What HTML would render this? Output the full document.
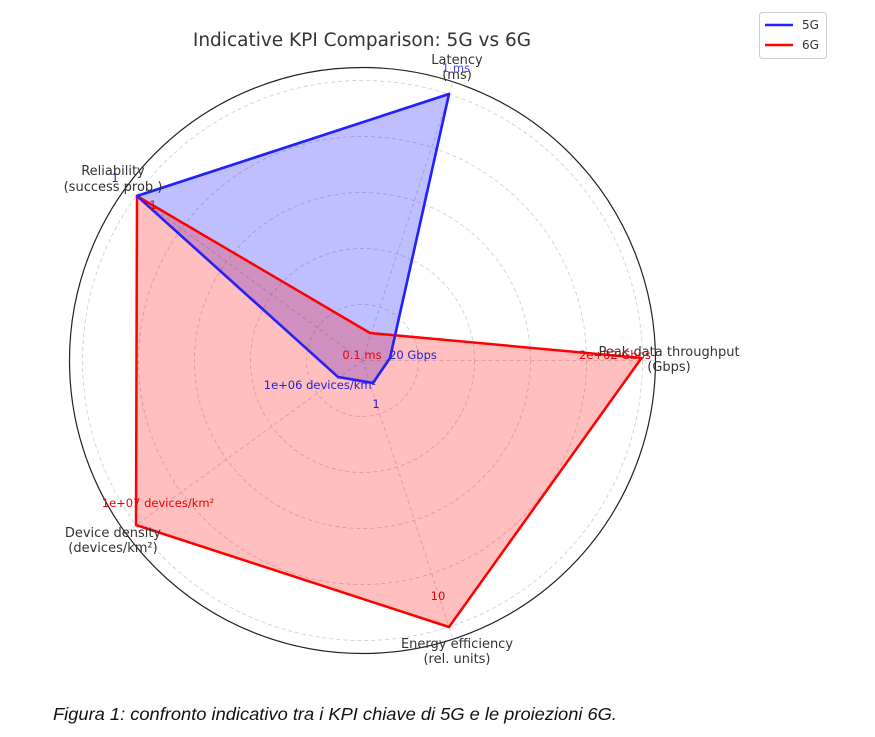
<!DOCTYPE html>
<html><head><meta charset="utf-8"><style>body{margin:0;background:#fff}svg{display:block}</style></head><body>
<svg width="875" height="737" viewBox="0 0 875 737" xmlns="http://www.w3.org/2000/svg" font-family="'DejaVu Sans','Liberation Sans',sans-serif">
<rect width="875" height="737" fill="#fff"/>
<g fill="none" stroke="#ccc" stroke-dasharray="4,3" stroke-width="0.8">
<circle cx="362.5" cy="360.5" r="56"/><circle cx="362.5" cy="360.5" r="112"/><circle cx="362.5" cy="360.5" r="168"/><circle cx="362.5" cy="360.5" r="224"/><circle cx="362.5" cy="360.5" r="280"/>
<line x1="362.5" y1="360.5" x2="655.5" y2="360.5"/>
<line x1="362.5" y1="360.5" x2="453" y2="81.8"/>
<line x1="362.5" y1="360.5" x2="125.5" y2="188.3"/>
<line x1="362.5" y1="360.5" x2="125.5" y2="532.7"/>
<line x1="362.5" y1="360.5" x2="453" y2="639.2"/>
</g>
<circle cx="362.5" cy="360.5" r="293" fill="none" stroke="#222" stroke-width="1.2"/>
<polygon points="390,358 449,94 137,196 338,377 373,383" fill="rgba(0,0,255,0.25)" stroke="#22f" stroke-width="2.5" stroke-linejoin="round"/>
<polygon points="641.5,358 370,333 137,196 136,525 449,627" fill="rgba(255,0,0,0.25)" stroke="#f00" stroke-width="2.5" stroke-linejoin="round"/>
<polyline points="390,358 449,94 137,196 338,377 373,383 390,358" fill="none" stroke="#22f" stroke-width="2.5" stroke-linejoin="round" stroke-opacity="0.9"/>
<g font-size="13" fill="#333" text-anchor="middle">
<text x="457" y="64">Latency</text><text x="457" y="79">(ms)</text>
<text x="113" y="175">Reliability</text><text x="113" y="191">(success prob.)</text>
<text x="669" y="356">Peak data throughput</text><text x="669" y="371">(Gbps)</text>
<text x="113" y="537">Device density</text><text x="113" y="552">(devices/km²)</text>
<text x="457" y="648">Energy efficiency</text><text x="457" y="663">(rel. units)</text>
</g>
<g font-size="11.5" text-anchor="middle">
<text x="362" y="359" fill="#e00">0.1 ms</text>
<text x="413" y="359" fill="#22d">20 Gbps</text>
<text x="320" y="389" fill="#22d">1e+06 devices/km²</text>
<text x="376" y="408" fill="#22d">1</text>
<text x="456" y="72" fill="#44f">1 ms</text>
<text x="115" y="182" fill="#22d">1</text>
<text x="153" y="209" fill="#e00">1</text>
<text x="615" y="359" fill="#e00">2e+02 Gbps</text>
<text x="158" y="507" fill="#e00">1e+07 devices/km²</text>
<text x="438" y="600" fill="#e00">10</text>
</g>
<text x="362" y="46" font-size="18.5" fill="#333" text-anchor="middle">Indicative KPI Comparison: 5G vs 6G</text>
<rect x="759.5" y="12.5" width="67" height="46" rx="3" fill="#fff" stroke="#ccc"/>
<line x1="765" y1="25" x2="793" y2="25" stroke="#22f" stroke-width="2.5"/>
<line x1="765" y1="45" x2="793" y2="45" stroke="#f00" stroke-width="2.5"/>
<text x="802" y="29" font-size="12" fill="#333">5G</text>
<text x="802" y="49" font-size="12" fill="#333">6G</text>
<text x="53" y="720" font-size="17.5" font-style="italic" fill="#111" font-family="'Liberation Sans',sans-serif" textLength="564" lengthAdjust="spacingAndGlyphs">Figura 1: confronto indicativo tra i KPI chiave di 5G e le proiezioni 6G.</text>
</svg>
</body></html>
